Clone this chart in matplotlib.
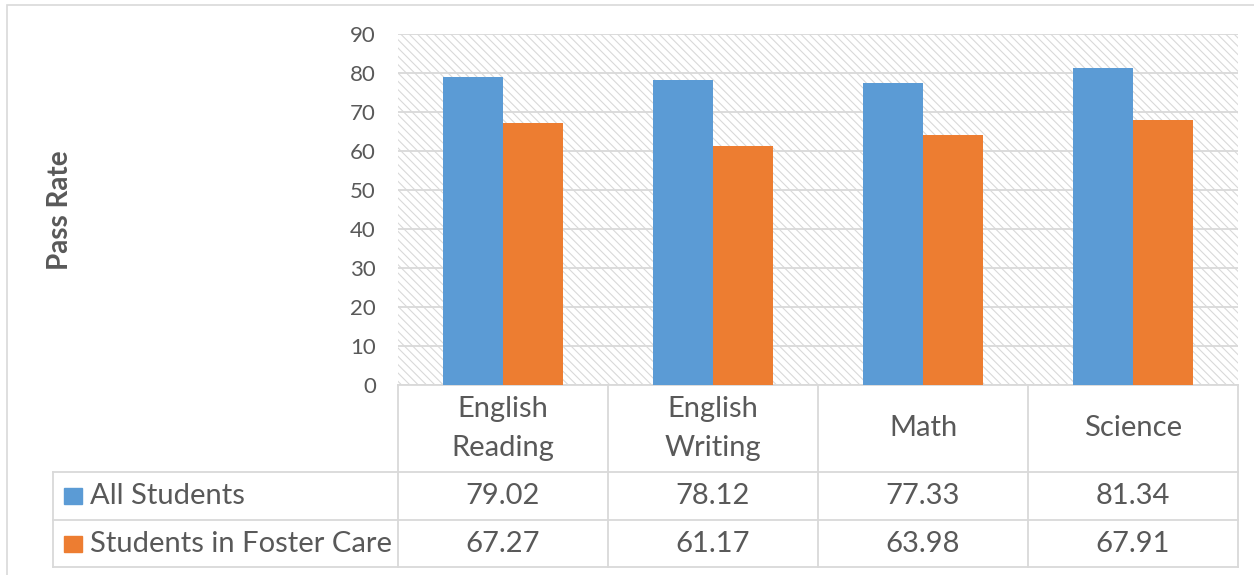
import numpy as np
import matplotlib.pyplot as plt
from matplotlib.patches import Rectangle
from matplotlib.lines import Line2D

categories = ["English\nReading", "English\nWriting", "Math", "Science"]
series_names = ["All Students", "Students in Foster Care"]
all_students = [79.02, 78.12, 77.33, 81.34]
foster_care = [67.27, 61.17, 63.98, 67.91]
yticks = [0, 10, 20, 30, 40, 50, 60, 70, 80, 90]

blue = "#5B9BD5"
orange = "#ED7D31"
grid_col = "#D9D9D9"
txt_col = "#595959"

plt.rcParams['font.family'] = ['Lato', 'DejaVu Sans']
plt.rcParams['hatch.color'] = grid_col
plt.rcParams['hatch.linewidth'] = 0.8

W, H = 1254, 575
fig = plt.figure(figsize=(W / 100, H / 100), dpi=100)

# chart frame (runs off the right and bottom edges)
fig.add_artist(Rectangle((7 / W, -0.1), 1.2, 1 - 5 / H + 0.1,
                         transform=fig.transFigure, fill=False,
                         edgecolor=grid_col, lw=1.2))

ax = fig.add_axes([398 / W, 1 - 385 / H, 840 / W, 351 / H])
x = np.arange(len(categories))
bw = 0.2857

ax.set_xlim(-0.5, len(categories) - 0.5)
ax.set_ylim(0, 90)

# hatched plot area background
ax.add_patch(Rectangle((0, 0), 1, 1, transform=ax.transAxes, facecolor='white',
                       edgecolor=grid_col, hatch='\\\\\\\\', lw=0, zorder=0))
ax.set_yticks(yticks)
ax.yaxis.grid(True, color=grid_col, lw=1.3, zorder=1)
ax.set_axisbelow(True)

ax.bar(x - bw / 2, all_students, bw, color=blue, zorder=3)
ax.bar(x + bw / 2, foster_care, bw, color=orange, zorder=3)

for s in ax.spines.values():
    s.set_visible(False)
ax.set_xticks([])
ax.tick_params(axis='y', length=0, pad=16, labelsize=16, labelcolor=txt_col)

fig.text(60 / W, 1 - 210 / H, "Pass Rate", rotation=90, ha='center', va='center',
         fontsize=20, fontweight='bold', color=txt_col)

# data table below the axis
tr = ax.get_xaxis_transform()
ah = 351.0
y_top = 0.0
y_hdr = (385 - 472) / ah
y_mid = (385 - 520) / ah
y_bot = (385 - 567) / ah
x_left = -0.5 - 345 / 210.0
x_right = len(categories) - 0.5
lkw = dict(transform=tr, color=grid_col, lw=1.3, clip_on=False)

ax.add_line(Line2D([-0.5, x_right], [y_top, y_top], **lkw))
for yy in (y_hdr, y_mid, y_bot):
    ax.add_line(Line2D([x_left, x_right], [yy, yy], **lkw))
for i in range(len(categories) + 1):
    xx = i - 0.5
    ax.add_line(Line2D([xx, xx], [y_top, y_bot], **lkw))
ax.add_line(Line2D([x_left, x_left], [y_hdr, y_bot], **lkw))

tkw = dict(transform=tr, ha='center', va='center', color=txt_col,
           fontsize=21, clip_on=False)
for i, cat in enumerate(categories):
    ax.text(i, (y_top + y_hdr) / 2, cat, linespacing=1.65, **tkw)
    ax.text(i, (y_hdr + y_mid) / 2, f"{all_students[i]:.2f}", **tkw)
    ax.text(i, (y_mid + y_bot) / 2, f"{foster_care[i]:.2f}", **tkw)

# legend keys inside the table
sq = 18 / 210.0
for yc, name, col in [((y_hdr + y_mid) / 2, series_names[0], blue),
                      ((y_mid + y_bot) / 2, series_names[1], orange)]:
    ax.add_patch(Rectangle((x_left + 11 / 210.0, yc - 8 / ah), sq, 16 / ah,
                           transform=tr, color=col, clip_on=False))
    ax.text(x_left + 37 / 210.0, yc, name, transform=tr, ha='left', va='center',
            color=txt_col, fontsize=21, clip_on=False)

fig.savefig("out.png", dpi=100)
